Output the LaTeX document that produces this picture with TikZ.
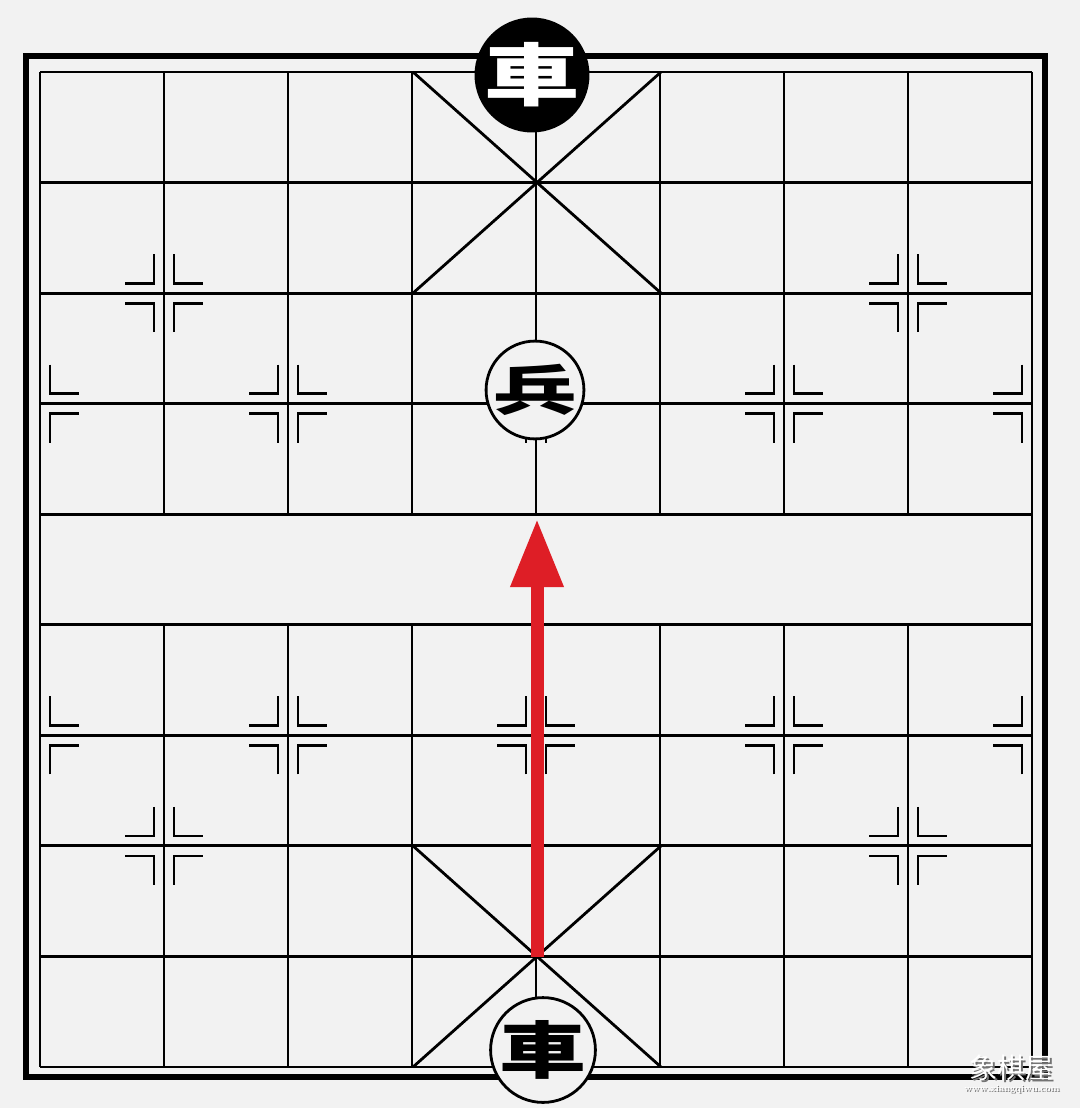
\documentclass[tikz,border=0pt]{standalone}
\usepackage{fontspec}
\usepackage{graphicx}
\newfontfamily\cjkfont{Noto Sans CJK TC}
\usetikzlibrary{arrows.meta}
\definecolor{boardbg}{RGB}{242,242,242}
\definecolor{arrowred}{RGB}{222,30,38}

\tikzset{
  gridline/.style={line width=2.8pt},
  frameline/.style={line width=5.5pt},
  markline/.style={line width=2.8pt},
  blackpiece/.style={circle, fill=black, text=white, minimum size=110pt, inner sep=0pt},
  whitepiece/.style={circle, draw, line width=2.8pt, fill=boardbg, inner sep=0pt},
  redarrow/.style={arrowred, line width=13pt, -{Triangle[width=50pt,length=68pt]}},
}

% a point mark at (x,y); #3 = list of horizontal sides (-1 left, 1 right)
\newcommand{\posmark}[3]{%
  \foreach \sx in {#3}{
    \foreach \sy in {-1,1}{
      \draw[markline] ({#1+10*\sx},{#2+39*\sy}) -- ({#1+10*\sx},{#2+10*\sy}) -- ({#1+39*\sx},{#2+10*\sy});
    }
  }%
}

\begin{document}
\begin{tikzpicture}[x=1pt,y=-1pt]

\fill[boardbg] (0,0) rectangle (1080,1108);
\useasboundingbox (0,0) rectangle (1080,1108);

% outer frame
\draw[frameline] (26,56) rectangle (1045,1077);

% board
\foreach \j in {0,...,9}
  \draw[gridline] (40,{72+110.55*\j}) -- (1032,{72+110.55*\j});
\draw[gridline] (40,72) -- (40,1067);
\draw[gridline] (1032,72) -- (1032,1067);
\foreach \i in {1,...,7}{
  \draw[gridline] ({40+124*\i},72) -- ({40+124*\i},514.2);
  \draw[gridline] ({40+124*\i},624.75) -- ({40+124*\i},1067);
}

% palaces
\draw[gridline] (413,72) -- (661,293.1);
\draw[gridline] (661,72) -- (413,293.1);
\draw[gridline] (413,845.9) -- (661,1067);
\draw[gridline] (661,845.9) -- (413,1067);

% cannon and soldier points
\foreach \y in {293.1,845.9}{
  \posmark{164}{\y}{-1,1}
  \posmark{908}{\y}{-1,1}
}
\foreach \y in {403.65,735.35}{
  \posmark{40}{\y}{1}
  \posmark{288}{\y}{-1,1}
  \posmark{536}{\y}{-1,1}
  \posmark{784}{\y}{-1,1}
  \posmark{1032}{\y}{-1}
}

% move
\coordinate (start) at (537,957);
\coordinate (tip) at (537,519);
\draw[redarrow] (start) -- (tip);

% pieces
\node[blackpiece] (blackrook) at (532,75) {\cjkfont\bfseries\fontsize{68}{68}\selectfont\scalebox{1.4}[1]{車}};
\node[whitepiece, minimum size=96pt] (soldier) at (535,390) {\cjkfont\bfseries\fontsize{54}{54}\selectfont\scalebox{1.55}[1]{兵}};
\node[whitepiece, minimum size=104pt] (redrook) at (543,1050) {\cjkfont\bfseries\fontsize{62}{62}\selectfont\scalebox{1.4}[1]{車}};

% watermark
\node[text=black!55] (wmshadow) at (1013,1070) {\cjkfont\fontsize{28}{28}\selectfont 象棋屋};
\node[text=white] (wm) at (1011,1068) {\cjkfont\fontsize{28}{28}\selectfont 象棋屋};
\node[text=black!55] (urlshadow) at (1013,1090) {\bfseries\fontsize{9}{9}\selectfont www.xiangqiwu.com};
\node[text=white] (url) at (1012,1089) {\bfseries\fontsize{9}{9}\selectfont www.xiangqiwu.com};

\end{tikzpicture}
\end{document}
